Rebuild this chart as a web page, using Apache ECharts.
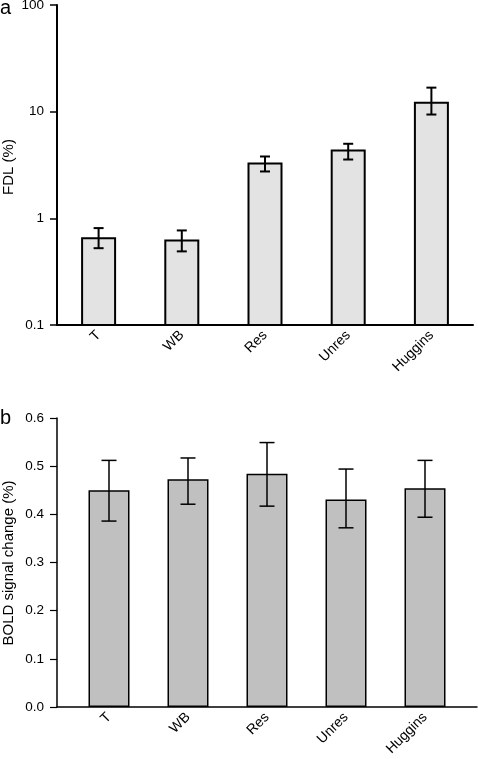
<!DOCTYPE html>
<html>
<head>
<meta charset="utf-8">
<script src="https://cdn.jsdelivr.net/npm/echarts@6/dist/echarts.min.js"></script>
<style>
html,body{margin:0;padding:0;background:#fff;}
#chart{width:478px;height:759px;}
</style>
</head>
<body>
<div id="chart"></div>
<script>
var categories = ['T', 'WB', 'Res', 'Unres', 'Huggins'];
var fdlMean = [0.65, 0.62, 3.27, 4.32, 12.1];
var fdlLow  = [0.525, 0.49, 2.75, 3.56, 9.4];
var fdlHigh = [0.81, 0.77, 3.8, 5.0, 16.8];
var boldMean = [0.450, 0.473, 0.484, 0.431, 0.454];
var boldLow  = [0.386, 0.421, 0.417, 0.372, 0.394];
var boldHigh = [0.512, 0.517, 0.549, 0.494, 0.512];
var fdlTicks = ['0.1', '1', '10', '100'];
var fdlBase = 0.1;
var fdlTitle = 'FDL (%)';
var boldTitle = 'BOLD signal change (%)';

var FONT = 'Liberation Sans, Arial, Helvetica, sans-serif';

function errData(lo, hi) {
  return categories.map(function (c, i) { return [i, lo[i], hi[i]]; });
}
function errRender(halfCap, lw) {
  return function (params, api) {
    var i = api.value(0);
    var pLo = api.coord([i, api.value(1)]);
    var pHi = api.coord([i, api.value(2)]);
    var st = { stroke: '#000', lineWidth: lw, fill: null };
    return {
      type: 'group',
      children: [
        { type: 'line', shape: { x1: pLo[0], y1: pLo[1], x2: pHi[0], y2: pHi[1] }, style: st },
        { type: 'line', shape: { x1: pHi[0] - halfCap, y1: pHi[1], x2: pHi[0] + halfCap, y2: pHi[1] }, style: st },
        { type: 'line', shape: { x1: pLo[0] - halfCap, y1: pLo[1], x2: pLo[0] + halfCap, y2: pLo[1] }, style: st }
      ]
    };
  };
}
function logBarRender(params, api) {
  var i = api.value(0);
  var top = api.coord([i, api.value(1)]);
  var base = api.coord([i, fdlBase]);
  var w = 33;
  return {
    type: 'rect',
    shape: { x: top[0] - w / 2, y: top[1], width: w, height: base[1] - top[1] },
    style: { fill: '#e3e3e3', stroke: '#000', lineWidth: 2 }
  };
}

var chart = echarts.init(document.getElementById('chart'), null, { renderer: 'canvas' });
var option = {
  animation: false,
  backgroundColor: '#fff',
  textStyle: { fontFamily: FONT },
  graphic: [
    { type: 'text', left: 0, top: -2, style: { text: 'a', font: '20px ' + FONT, fill: '#000' } },
    { type: 'text', left: 0, top: 408, style: { text: 'b', font: '20px ' + FONT, fill: '#000' } },
    { type: 'text', x: 9, y: 167, rotation: Math.PI / 2,
      style: { text: fdlTitle, font: '15px ' + FONT, fill: '#000', textAlign: 'center', textVerticalAlign: 'middle' } },
    { type: 'text', x: 9, y: 563, rotation: Math.PI / 2,
      style: { text: boldTitle, font: '15px ' + FONT, fill: '#000', textAlign: 'center', textVerticalAlign: 'middle' } }
  ],
  grid: [
    { left: 57, top: 5, width: 416, height: 320, outerBoundsMode: 'none', containLabel: false },
    { left: 57, top: 418, width: 420, height: 289, outerBoundsMode: 'none', containLabel: false },
    { left: 69.5, top: 418, width: 395, height: 289, outerBoundsMode: 'none', containLabel: false }
  ],
  xAxis: [
    {
      gridIndex: 0, type: 'category', data: categories, boundaryGap: true,
      axisLine: { show: true, lineStyle: { color: '#000', width: 2 } },
      axisTick: { show: false },
      axisLabel: { rotate: 45, color: '#000', fontSize: 14, fontFamily: FONT, margin: 8, interval: 0 },
      splitLine: { show: false }
    },
    {
      gridIndex: 1, type: 'value', min: 0, max: 1,
      axisLine: { show: true, onZero: false, lineStyle: { color: '#000', width: 1.5 } },
      axisTick: { show: false }, axisLabel: { show: false }, splitLine: { show: false }
    },
    {
      gridIndex: 2, type: 'category', data: categories, boundaryGap: true,
      axisLine: { show: false },
      axisTick: { show: false },
      axisLabel: { rotate: 45, color: '#000', fontSize: 14, fontFamily: FONT, margin: 8, interval: 0 },
      splitLine: { show: false }
    }
  ],
  yAxis: [
    {
      gridIndex: 0, type: 'log', logBase: 10, min: 0.1, max: 100,
      axisLine: { show: true, lineStyle: { color: '#000', width: 2 } },
      axisTick: { show: true, length: 7, lineStyle: { color: '#000', width: 1.5 } },
      minorTick: { show: false },
      axisLabel: {
        color: '#000', fontSize: 13.5, fontFamily: FONT, margin: 13,
        formatter: function (v) {
          var e = Math.round(Math.log10(v));
          return fdlTicks[e + 1] !== undefined ? fdlTicks[e + 1] : '';
        }
      },
      splitLine: { show: false }
    },
    {
      gridIndex: 1, type: 'value', min: 0, max: 0.6, interval: 0.1,
      axisLine: { show: true, lineStyle: { color: '#000', width: 1.5 } },
      axisTick: { show: true, length: 7, lineStyle: { color: '#000', width: 1.2 } },
      axisLabel: {
        color: '#000', fontSize: 13.5, fontFamily: FONT, margin: 13,
        formatter: function (v) { return v.toFixed(1); }
      },
      splitLine: { show: false }
    },
    {
      gridIndex: 2, type: 'value', min: 0, max: 0.6, interval: 0.1, show: false,
      splitLine: { show: false }
    }
  ],
  series: [
    {
      type: 'custom', xAxisIndex: 0, yAxisIndex: 0,
      data: categories.map(function (c, i) { return [i, fdlMean[i]]; }),
      renderItem: logBarRender, z: 3
    },
    {
      type: 'custom', xAxisIndex: 0, yAxisIndex: 0, data: errData(fdlLow, fdlHigh),
      renderItem: errRender(5, 2), z: 5
    },
    {
      type: 'line', xAxisIndex: 1, yAxisIndex: 1, data: [], showSymbol: false
    },
    {
      type: 'bar', xAxisIndex: 2, yAxisIndex: 2, data: boldMean, barWidth: 41,
      itemStyle: { color: '#c0c0c0', borderColor: '#000', borderWidth: 1.5 }
    },
    {
      type: 'custom', xAxisIndex: 2, yAxisIndex: 2, data: errData(boldLow, boldHigh),
      renderItem: errRender(7.5, 1.5), z: 5
    }
  ]
};
chart.setOption(option);
</script>
</body>
</html>
